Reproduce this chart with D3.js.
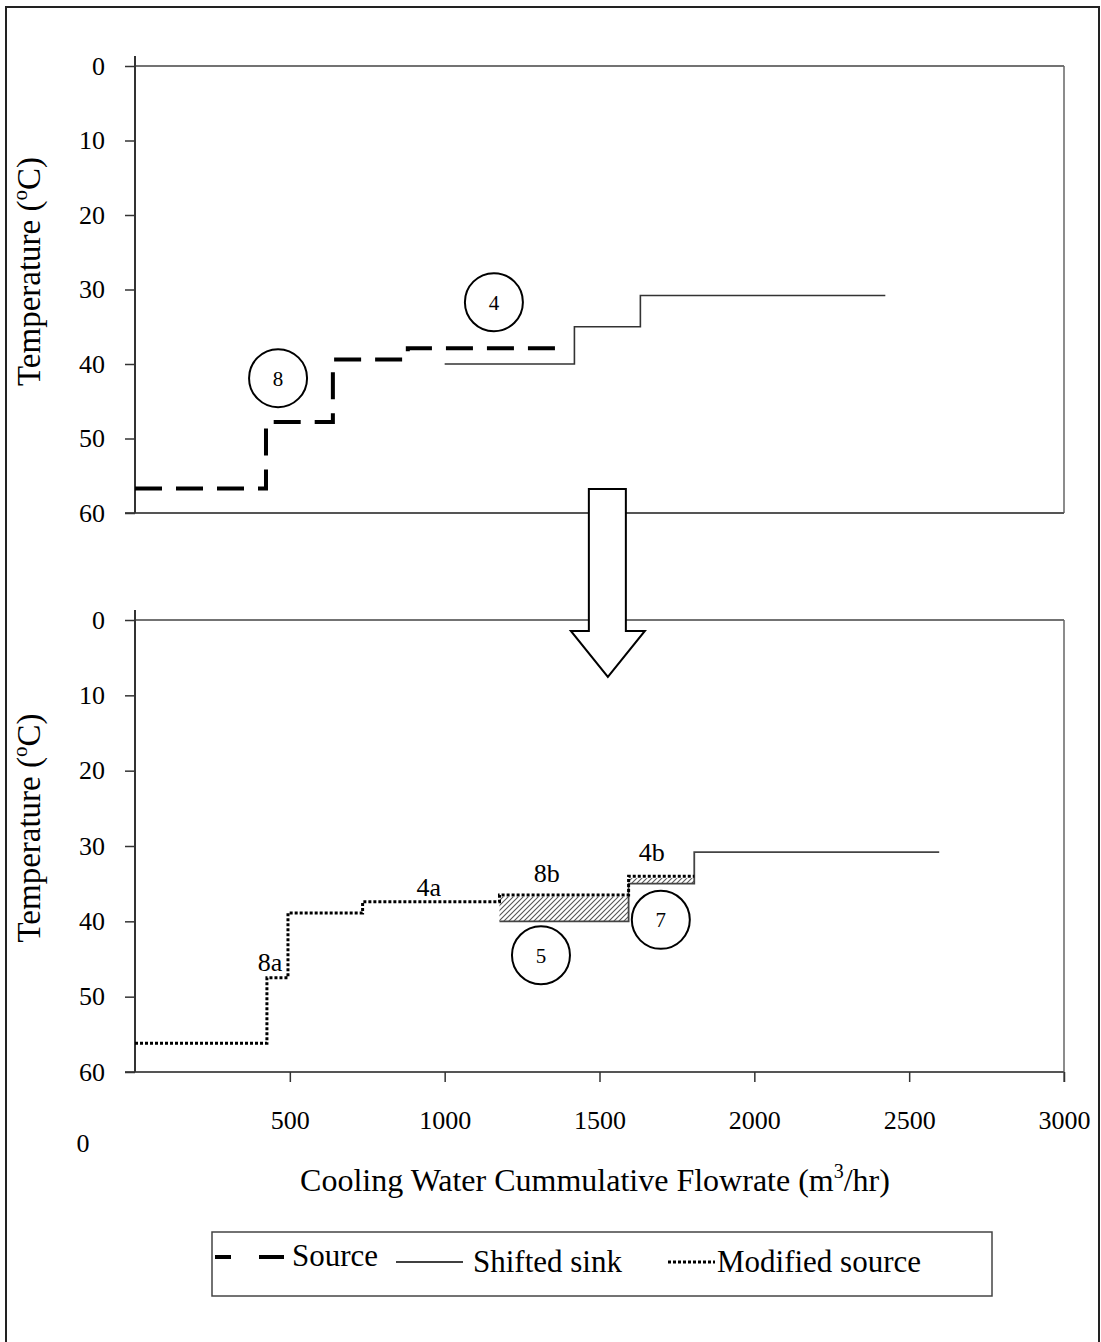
<!DOCTYPE html>
<html>
<head>
<meta charset="utf-8">
<script src="https://cdn.jsdelivr.net/npm/d3@7"></script>
<style>
  body { margin: 0; background: #fff; }
  svg { display: block; font-family: "Liberation Serif", "Times New Roman", serif; }
</style>
</head>
<body>
<svg></svg>
<script>
const WIDTH = 1101;
const HEIGHT = 1342;
const SERIF = "Liberation Serif, Times New Roman, serif";

// axis ticks
const tempTicks = [0, 10, 20, 30, 40, 50, 60];
const flowTicks = [500, 1000, 1500, 2000, 2500, 3000];

// top panel: source and shifted sink (flowrate m3/hr, temperature C)
const sourceFlow = [0, 423, 639, 881, 1397];
const sourceTemp = [56.7, 47.8, 39.4, 37.9, 37.9];
const sinkFlowTop = [1000, 1419, 1632, 2423];
const sinkTempTop = [40, 35, 30.8, 30.8];

// bottom panel: modified source and shifted sink
const modFlow = [0, 426, 494, 735, 1177, 1594, 1806];
const modTemp = [56.2, 47.5, 38.9, 37.4, 36.5, 34.0, 34.0];
const sinkFlowBottom = [1177, 1594, 1806, 2597];
const sinkTempBottom = [40, 35, 30.8, 30.8];

// circled stream numbers and segment labels (data units)
const topCircles = ["8", "4"];
const topCircleFlow = [462, 1159];
const topCircleTemp = [41.9, 31.7];
const bottomCircles = ["5", "7"];
const bottomCircleFlow = [1311, 1698];
const bottomCircleTemp = [44.5, 39.8];
const segLabels = ["8a", "4a", "8b", "4b"];
const segLabelFlow = [436, 949, 1330, 1669];
const segLabelTemp = [45.4, 35.4, 33.6, 30.8];

const legendNames = ["Source", "Shifted sink", "Modified source"];

const svg = d3.select("svg")
    .attr("width", WIDTH)
    .attr("height", HEIGHT);

svg.append("rect")
    .attr("width", WIDTH)
    .attr("height", HEIGHT)
    .attr("fill", "#fff");

// hatch for the overlap areas
svg.append("defs").append("pattern")
    .attr("id", "hatch")
    .attr("patternUnits", "userSpaceOnUse")
    .attr("width", 5)
    .attr("height", 5)
    .append("path")
    .attr("d", "M-1,1 l2,-2 M0,5 l5,-5 M4,6 l2,-2")
    .attr("stroke", "#555")
    .attr("stroke-width", 1.1);

// outer frame
svg.append("rect")
    .attr("x", 6)
    .attr("y", 7)
    .attr("width", 1093)
    .attr("height", 1350)
    .attr("fill", "none")
    .attr("stroke", "#222")
    .attr("stroke-width", 2);

const x = d3.scaleLinear().domain([0, 3000]).range([135, 1064]);
const yTop = d3.scaleLinear().domain([0, 60]).range([66, 513]);
const yBottom = d3.scaleLinear().domain([0, 60]).range([620, 1072]);

function stepLine(y) {
    return d3.line()
        .x(d => x(d[0]))
        .y(d => y(d[1]))
        .curve(d3.curveStepAfter);
}

function sinkTempAt(f) {
    let t = sinkTempBottom[0];
    sinkFlowBottom.forEach((v, i) => { if (v <= f) t = sinkTempBottom[i]; });
    return t;
}

function drawPanel(y, withXAxis) {
    const g = svg.append("g");
    const x0 = x.range()[0], x1 = x.range()[1];
    const yb = y.range()[1];

    // box
    g.append("line").attr("x1", x0).attr("x2", x1).attr("y1", y(0)).attr("y2", y(0))
        .attr("stroke", "#444").attr("stroke-width", 1.5);
    g.append("line").attr("x1", x1).attr("x2", x1).attr("y1", y(0)).attr("y2", withXAxis ? yb + 10 : yb)
        .attr("stroke", "#666").attr("stroke-width", 1.5);
    g.append("line").attr("x1", x0 - 10).attr("x2", x1).attr("y1", yb).attr("y2", yb)
        .attr("stroke", "#555").attr("stroke-width", 2);
    g.append("line").attr("x1", x0).attr("x2", x0).attr("y1", y(0) - 10).attr("y2", yb)
        .attr("stroke", "#333").attr("stroke-width", 2);

    const ay = g.append("g")
        .attr("transform", `translate(${x0},0)`)
        .call(d3.axisLeft(y).tickValues(tempTicks).tickSize(10).tickSizeOuter(0).tickPadding(20));
    ay.attr("font-family", SERIF);
    ay.select(".domain").remove();
    ay.selectAll("line").attr("stroke", "#333").attr("stroke-width", 1.5);
    ay.selectAll("text").style("font-size", "26px").attr("fill", "#000");

    if (withXAxis) {
        const ax = g.append("g")
            .attr("transform", `translate(0,${yb})`)
            .call(d3.axisBottom(x).tickValues(flowTicks).tickFormat(d3.format("d"))
                .tickSize(10).tickSizeOuter(0).tickPadding(29));
        ax.attr("font-family", SERIF);
        ax.select(".domain").remove();
        ax.selectAll("line").attr("stroke", "#333").attr("stroke-width", 1.5);
        ax.selectAll("text").style("font-size", "26px").attr("fill", "#000");
    }

    // y title
    const t = g.append("text")
        .attr("transform", `translate(40,${(y(0) + yb) / 2 - 18}) rotate(-90)`)
        .attr("text-anchor", "middle")
        .style("font-size", "33px");
    t.append("tspan").text("Temperature (");
    t.append("tspan").attr("dy", -13).style("font-size", "21px").text("o");
    t.append("tspan").attr("dy", 13).text("C)");
    return g;
}

function drawCircles(g, y, names, flows, temps) {
    names.forEach((n, i) => {
        g.append("circle")
            .attr("cx", x(flows[i]))
            .attr("cy", y(temps[i]))
            .attr("r", 29)
            .attr("fill", "none")
            .attr("stroke", "#000")
            .attr("stroke-width", 2);
        g.append("text")
            .attr("x", x(flows[i]))
            .attr("y", y(temps[i]))
            .attr("dy", "0.35em")
            .attr("text-anchor", "middle")
            .style("font-size", "21px")
            .text(n);
    });
}

// ---- top panel
const topPanel = drawPanel(yTop, false);

topPanel.append("path")
    .datum(d3.zip(sinkFlowTop, sinkTempTop))
    .attr("d", stepLine(yTop))
    .attr("fill", "none")
    .attr("stroke", "#333")
    .attr("stroke-width", 1.6);

topPanel.append("path")
    .datum(d3.zip(sourceFlow, sourceTemp))
    .attr("d", stepLine(yTop))
    .attr("fill", "none")
    .attr("stroke", "#000")
    .attr("stroke-width", 4)
    .attr("stroke-dasharray", "27,14");

drawCircles(topPanel, yTop, topCircles, topCircleFlow, topCircleTemp);

// ---- bottom panel
const bottomPanel = drawPanel(yBottom, true);

// overlap areas between modified source and sink
modFlow.slice(0, -1).forEach((f, i) => {
    if (f < sinkFlowBottom[0]) return;
    const tb = sinkTempAt(f);
    bottomPanel.append("rect")
        .attr("x", x(f))
        .attr("y", yBottom(modTemp[i]) + 2)
        .attr("width", x(modFlow[i + 1]) - x(f))
        .attr("height", yBottom(tb) - yBottom(modTemp[i]) - 2)
        .attr("fill", "url(#hatch)");
});

bottomPanel.append("path")
    .datum(d3.zip(sinkFlowBottom, sinkTempBottom))
    .attr("d", stepLine(yBottom))
    .attr("fill", "none")
    .attr("stroke", "#444")
    .attr("stroke-width", 1.8);

bottomPanel.append("path")
    .datum(d3.zip(modFlow, modTemp))
    .attr("d", stepLine(yBottom))
    .attr("fill", "none")
    .attr("stroke", "#000")
    .attr("stroke-width", 3)
    .attr("stroke-dasharray", "3,2");

drawCircles(bottomPanel, yBottom, bottomCircles, bottomCircleFlow, bottomCircleTemp);

segLabels.forEach((s, i) => {
    bottomPanel.append("text")
        .attr("x", x(segLabelFlow[i]))
        .attr("y", yBottom(segLabelTemp[i]))
        .attr("dy", "0.35em")
        .attr("text-anchor", "middle")
        .style("font-size", "26px")
        .text(s);
});

// stray zero label under the axis
bottomPanel.append("text")
    .attr("x", 83)
    .attr("y", 1152)
    .attr("text-anchor", "middle")
    .style("font-size", "26px")
    .text("0");

// x title
const xt = svg.append("text")
    .attr("x", 595)
    .attr("y", 1191)
    .attr("text-anchor", "middle")
    .style("font-size", "32px");
xt.append("tspan").text("Cooling Water Cummulative Flowrate (m");
xt.append("tspan").attr("dy", -13).style("font-size", "20px").text("3");
xt.append("tspan").attr("dy", 13).text("/hr)");

// big arrow between panels
const arrowX = x(1527);
svg.append("path")
    .attr("d", `M${arrowX - 19},489 H${arrowX + 18} V631 H${arrowX + 37} L${arrowX},677 L${arrowX - 37},631 H${arrowX - 19} Z`)
    .attr("fill", "#fff")
    .attr("stroke", "#000")
    .attr("stroke-width", 2)
    .attr("stroke-linejoin", "miter");

// legend
const lg = svg.append("g");
lg.append("rect")
    .attr("x", 212).attr("y", 1232)
    .attr("width", 780).attr("height", 64)
    .attr("fill", "none")
    .attr("stroke", "#444")
    .attr("stroke-width", 1.5);

const legendStyle = [
    { x1: 215, x2: 284, y: 1257, w: 4, dash: "16,28,25,0", tx: 292, ty: 1266 },
    { x1: 396, x2: 463, y: 1262, w: 1.5, dash: null, tx: 473, ty: 1272 },
    { x1: 668, x2: 715, y: 1262, w: 3, dash: "3,2", tx: 717, ty: 1272 }
];
legendNames.forEach((n, i) => {
    const s = legendStyle[i];
    lg.append("line")
        .attr("x1", s.x1).attr("x2", s.x2)
        .attr("y1", s.y).attr("y2", s.y)
        .attr("stroke", "#000")
        .attr("stroke-width", s.w)
        .attr("stroke-dasharray", s.dash);
    lg.append("text")
        .attr("x", s.tx)
        .attr("y", s.ty)
        .style("font-size", "31px")
        .text(n);
});
</script>
</body>
</html>
